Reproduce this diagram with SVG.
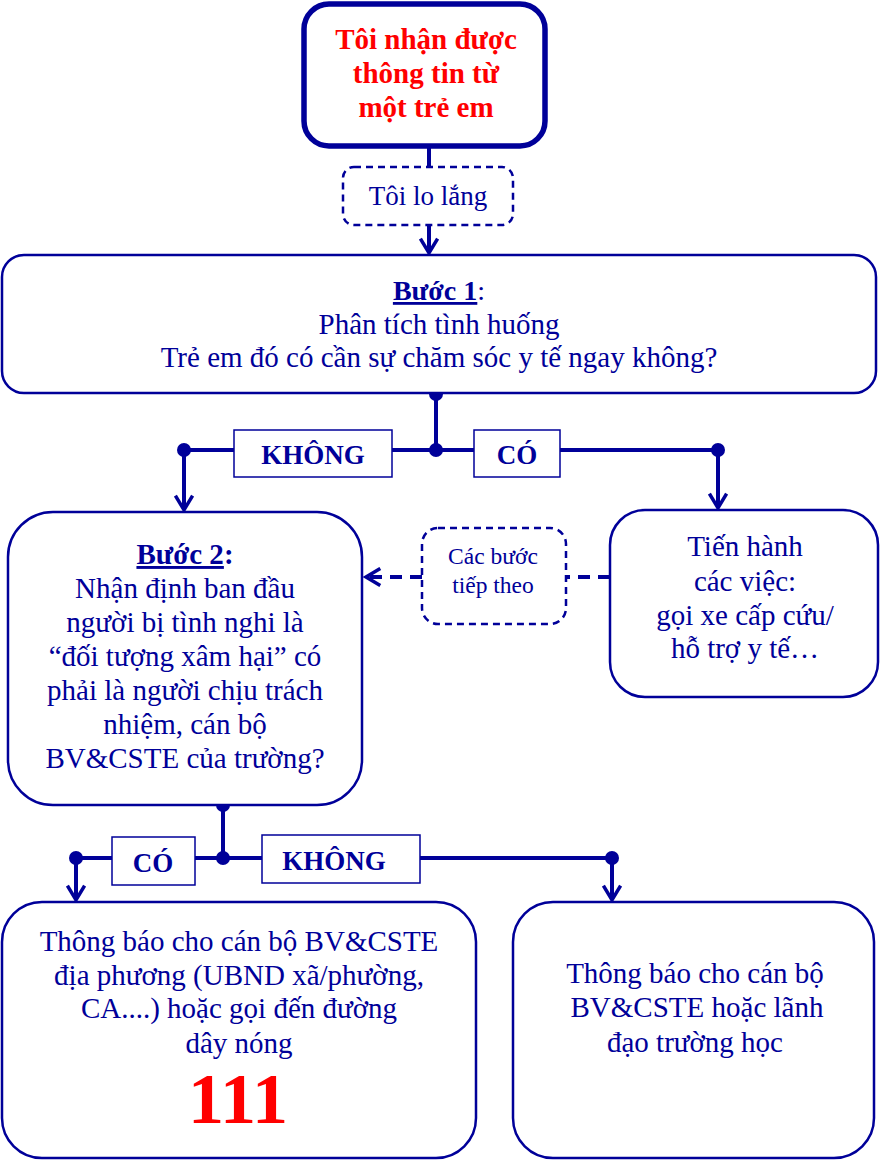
<svg xmlns="http://www.w3.org/2000/svg" width="880" height="1160" viewBox="0 0 880 1160">
<style>
.box{fill:#fff;stroke:#000099;stroke-width:2.5}
.dash{fill:#fff;stroke:#000099;stroke-width:2.5;stroke-dasharray:7,5}
.lbl{fill:#fff;stroke:#000099;stroke-width:1.5}
.ln{fill:none;stroke:#000099;stroke-width:4}
.dl{fill:none;stroke:#000099;stroke-width:4;stroke-dasharray:12,8}
.t{font-family:"Liberation Serif","Times New Roman",serif;fill:#000099;text-anchor:middle;font-size:29px}
.b{font-weight:bold}
.red{fill:#ff0000}
.dot{fill:#000099}
</style>
<defs>
<marker id="arr" viewBox="0 0 14 14" refX="12" refY="7" markerWidth="20" markerHeight="20" markerUnits="userSpaceOnUse" orient="auto">
<path d="M2,1 L12,7 L2,13" fill="none" stroke="#000099" stroke-width="2.4"/>
</marker>
</defs>

<g id="connectors">
<line class="ln" x1="429" y1="146" x2="429" y2="166"/>
<line class="ln" x1="429" y1="225" x2="429" y2="253" marker-end="url(#arr)"/>
<line class="ln" x1="436" y1="393" x2="436" y2="450"/>
<line class="ln" x1="184" y1="450" x2="718" y2="450"/>
<line class="ln" x1="184" y1="450" x2="184" y2="510" marker-end="url(#arr)"/>
<line class="ln" x1="718" y1="450" x2="718" y2="508" marker-end="url(#arr)"/>
<line class="dl" x1="610" y1="577" x2="566" y2="577"/>
<line class="dl" x1="422" y1="577" x2="366" y2="577" marker-end="url(#arr)"/>
<line class="ln" x1="223" y1="805" x2="223" y2="858"/>
<line class="ln" x1="76" y1="858" x2="612" y2="858"/>
<line class="ln" x1="76" y1="858" x2="76" y2="900" marker-end="url(#arr)"/>
<line class="ln" x1="612" y1="858" x2="612" y2="900" marker-end="url(#arr)"/>
<circle class="dot" cx="436" cy="394" r="7"/>
<circle class="dot" cx="436" cy="450" r="7"/>
<circle class="dot" cx="184" cy="450" r="7"/>
<circle class="dot" cx="718" cy="450" r="7"/>
<circle class="dot" cx="223" cy="805" r="7"/>
<circle class="dot" cx="223" cy="858" r="7"/>
<circle class="dot" cx="76" cy="858" r="7"/>
<circle class="dot" cx="612" cy="858" r="7"/>
</g>

<g id="lbl-khong1">
<rect class="lbl" x="234" y="430" width="158" height="47"/>
<text class="t b" x="313" y="464" style="font-size:27px">KHÔNG</text>
</g>
<g id="lbl-co1">
<rect class="lbl" x="474" y="430" width="86" height="47"/>
<text class="t b" x="517" y="464" style="font-size:27px">CÓ</text>
</g>
<g id="lbl-co2">
<rect class="lbl" x="112" y="837" width="83" height="48"/>
<text class="t b" x="153" y="872" style="font-size:27px">CÓ</text>
</g>
<g id="lbl-khong2">
<rect class="lbl" x="262" y="835" width="158" height="48"/>
<text class="t b" x="334" y="870" style="font-size:27px">KHÔNG</text>
</g>

<g id="start">
<rect x="304" y="4" width="241" height="142" rx="25" fill="#fff" stroke="#000099" stroke-width="5.5"/>
<text class="t b red" x="426" y="49" style="font-size:29px">Tôi nhận được</text>
<text class="t b red" x="426" y="83" style="font-size:29px">thông tin từ</text>
<text class="t b red" x="426" y="117" style="font-size:29px">một trẻ em</text>
</g>

<g id="worry">
<rect class="dash" x="343" y="167" width="170" height="58" rx="11"/>
<text class="t" x="428" y="205" style="font-size:27px">Tôi lo lắng</text>
</g>

<g id="step1">
<rect class="box" x="2" y="255" width="874" height="138" rx="22"/>
<text class="t" x="439" y="300" style="font-size:28px"><tspan class="b" text-decoration="underline">Bước 1</tspan>:</text>
<text class="t" x="439" y="334">Phân tích tình huống</text>
<text class="t" x="439" y="367">Trẻ em đó có cần sự chăm sóc y tế ngay không?</text>
</g>

<g id="step2">
<rect class="box" x="8" y="512" width="354" height="293" rx="45"/>
<text class="t" x="185" y="564"><tspan class="b" text-decoration="underline">Bước 2</tspan><tspan class="b">:</tspan></text>
<text class="t" x="185" y="598">Nhận định ban đầu</text>
<text class="t" x="185" y="632">người bị tình nghi là</text>
<text class="t" x="185" y="666">“đối tượng xâm hại” có</text>
<text class="t" x="185" y="700">phải là người chịu trách</text>
<text class="t" x="185" y="734">nhiệm, cán bộ</text>
<text class="t" x="185" y="768">BV&amp;CSTE của trường?</text>
</g>

<g id="next">
<rect class="dash" x="422" y="528" width="144" height="96" rx="16"/>
<text class="t" x="493" y="564" style="font-size:23.5px">Các bước</text>
<text class="t" x="493" y="593" style="font-size:23.5px">tiếp theo</text>
</g>

<g id="action">
<rect class="box" x="610" y="510" width="268" height="187" rx="35"/>
<text class="t" x="745" y="556">Tiến hành</text>
<text class="t" x="745" y="591">các việc:</text>
<text class="t" x="745" y="625">gọi xe cấp cứu/</text>
<text class="t" x="745" y="658">hỗ trợ y tế…</text>
</g>

<g id="notify-local">
<rect class="box" x="2" y="902" width="474" height="256" rx="40"/>
<text class="t" x="239" y="951">Thông báo cho cán bộ BV&amp;CSTE</text>
<text class="t" x="239" y="985">địa phương (UBND xã/phường,</text>
<text class="t" x="239" y="1018">CA....) hoặc gọi đến đường</text>
<text class="t" x="239" y="1053">dây nóng</text>
<text class="t b red" x="238" y="1123" style="font-size:72px">111</text>
</g>

<g id="notify-school">
<rect class="box" x="513" y="902" width="361" height="256" rx="40"/>
<text class="t" x="695" y="983">Thông báo cho cán bộ</text>
<text class="t" x="697" y="1017">BV&amp;CSTE hoặc lãnh</text>
<text class="t" x="695" y="1052">đạo trường học</text>
</g>
</svg>
